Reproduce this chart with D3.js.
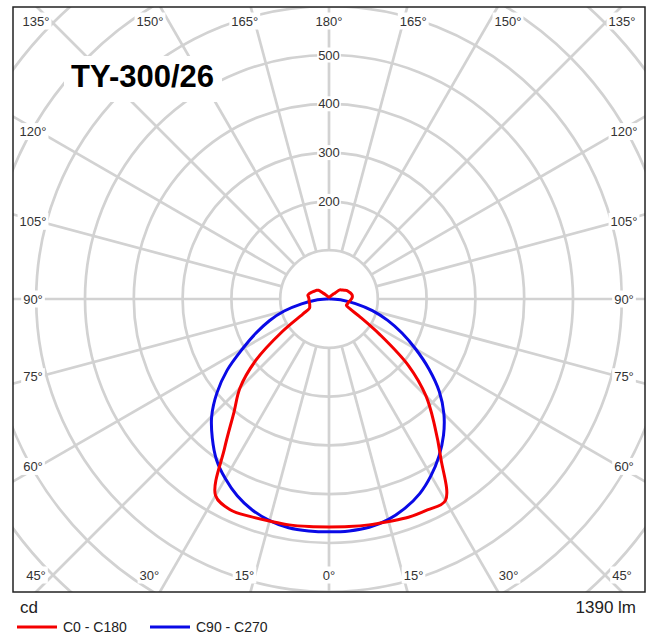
<!DOCTYPE html>
<html>
<head>
<meta charset="utf-8">
<title>TY-300/26</title>
<script src="https://d3js.org/d3.v7.min.js"></script>
<style>
  body { margin: 0; background: #fff; }
  text { font-family: "Liberation Sans", Arial, sans-serif; }
</style>
</head>
<body>
<script>
// gamma angles (deg, 0 = straight down)
var gamma = [0,5,10,15,20,25,30,35,40,45,50,55,60,65,70,75,80,85,90,95,100,105,110,115,120,125,130,135,140,145,150,155,160,165,170,175,180];

// intensities in cd
var c0   = [467,468,470,472,476,477,477,400,336,281,213,128,74,47,38,39,40,43,46,48,48,46,43,41,36,32,29,17,12,9,7,6,5,4,4,4,4];
var c180 = [467,468,470,471,474,477,465,373,303,258,196,118,62,44,42,41,41,41,41,42,44,42,39,36,33,31,28,17,12,9,7,6,5,4,4,4,4];
var c90  = [477,477,475,468,456,440,418,393,365,333,295,250,205,165,128,92,55,28,4,1,0,0,0,0,0,0,0,0,0,0,0,0,0,0,0,0,0];
var c270 = [477,477,476,470,460,445,425,402,372,340,300,255,205,165,130,95,57,28,4,1,0,0,0,0,0,0,0,0,0,0,0,0,0,0,0,0,0];

var rings = [100,200,300,400,500,600,700,800,900];
var ringLabels = [200,300,400,500];
var spokeAngles = [0,15,30,45,60,75,90,105,120,135,150,165,180];
var topLabels = [135,150,165,180];
var bottomLabels = [0,15,30,45];
var sideLabels = [60,75,90,105,120];

var title = "TY-300/26";
var unit = "cd";
var flux = "1390 lm";
var seriesNames = ["C0 - C180", "C90 - C270"];
var colors = ["#f40000", "#0a0ae6"];

var W = 654, H = 639;
var frame = {l: 13, t: 7, r: 645, b: 592};
var cx = 329, cy = 299;
var gridColor = "#d2d2d2";

var r = d3.scaleLinear().domain([0, 100]).range([0, 48.8]);

var svg = d3.select("body").append("svg")
    .attr("width", W)
    .attr("height", H);

svg.append("clipPath").attr("id", "clip")
  .append("rect")
    .attr("x", frame.l).attr("y", frame.t)
    .attr("width", frame.r - frame.l).attr("height", frame.b - frame.t);

var grid = svg.append("g").attr("clip-path", "url(#clip)");

grid.selectAll("circle")
    .data(rings)
    .enter().append("circle")
    .attr("cx", cx).attr("cy", cy)
    .attr("r", function(d) { return r(d); })
    .attr("fill", "none")
    .attr("stroke", gridColor)
    .attr("stroke-width", 2.7);

// spokes on both sides
var spokes = [];
spokeAngles.forEach(function(a) {
  spokes.push({a: a, s: 1});
  if (a > 0 && a < 180) spokes.push({a: a, s: -1});
});
grid.selectAll("line.spoke")
    .data(spokes)
    .enter().append("line")
    .attr("class", "spoke")
    .attr("x1", function(d) { return cx + d.s * r(100) * Math.sin(d.a * Math.PI / 180); })
    .attr("y1", function(d) { return cy + r(100) * Math.cos(d.a * Math.PI / 180); })
    .attr("x2", function(d) { return cx + d.s * 800 * Math.sin(d.a * Math.PI / 180); })
    .attr("y2", function(d) { return cy + 800 * Math.cos(d.a * Math.PI / 180); })
    .attr("stroke", gridColor)
    .attr("stroke-width", 2.7);

// label with white box behind
function boxLabel(g, x, y, txt, size, pad) {
  var t = g.append("text")
      .attr("x", x).attr("y", y)
      .attr("text-anchor", "middle")
      .attr("dominant-baseline", "central")
      .attr("font-size", size)
      .attr("fill", "#333")
      .text(txt);
  var b = t.node().getBBox();
  g.insert("rect", function() { return t.node(); })
      .attr("x", b.x - pad).attr("y", b.y - pad + 1)
      .attr("width", b.width + 2 * pad).attr("height", b.height + 2 * pad - 2)
      .attr("fill", "#fff");
  return t;
}

var labels = svg.append("g");

ringLabels.forEach(function(v) {
  boxLabel(labels, cx, cy - r(v), v, 13, 1);
});

function deg(a) { return a + "\u00B0"; }

// top / bottom angle labels sit near where the spoke meets the frame
var dTop = cy - frame.t, dBot = frame.b - cy, dSide = 290;
function edgeOffset(d, phi) {
  return Math.min(d * Math.tan(phi) + 12 * Math.sin(2 * phi), cx - 36);
}
topLabels.forEach(function(a) {
  var off = edgeOffset(dTop, (180 - a) * Math.PI / 180);
  boxLabel(labels, cx - off, 21, deg(a), 13, 2);
  if (a != 180) boxLabel(labels, cx + off, 21, deg(a), 13, 2);
});
bottomLabels.forEach(function(a) {
  var off = edgeOffset(dBot, a * Math.PI / 180);
  boxLabel(labels, cx - off, 575, deg(a), 13, 2);
  if (a != 0) boxLabel(labels, cx + off, 575, deg(a), 13, 2);
});
sideLabels.forEach(function(a) {
  var y = cy + dSide * Math.tan((90 - a) * Math.PI / 180);
  boxLabel(labels, 33, y, deg(a), 13, 2);
  boxLabel(labels, 624, y, deg(a), 13, 2);
});

// title
var tg = svg.append("g");
tg.append("rect")
    .attr("x", 64).attr("y", 56).attr("width", 158).attr("height", 46)
    .attr("fill", "#fff");
tg.append("text")
    .attr("x", 71).attr("y", 87)
    .attr("font-family", "Roboto, 'Noto Sans', sans-serif")
    .attr("font-weight", "bold")
    .attr("font-size", 31)
    .attr("fill", "#000")
    .text(title);

// curves
function buildCurve(right, left) {
  var pts = [];
  for (var i = gamma.length - 1; i >= 0; i--) {
    pts.push({a: Math.PI - gamma[i] * Math.PI / 180, v: right[i]});
  }
  for (var j = 1; j < gamma.length - 1; j++) {
    pts.push({a: Math.PI + gamma[j] * Math.PI / 180, v: left[j]});
  }
  return pts;
}

var polarLine = d3.lineRadial()
    .angle(function(d) { return d.a; })
    .radius(function(d) { return r(d.v); })
    .curve(d3.curveCatmullRomClosed.alpha(0.5));

var curves = svg.append("g").attr("transform", "translate(" + cx + "," + cy + ")");

curves.append("path")
    .attr("d", polarLine(buildCurve(c90, c270)))
    .attr("fill", "none")
    .attr("stroke", colors[1])
    .attr("stroke-width", 3)
    .attr("stroke-linejoin", "round");

curves.append("path")
    .attr("d", polarLine(buildCurve(c0, c180)))
    .attr("fill", "none")
    .attr("stroke", colors[0])
    .attr("stroke-width", 3)
    .attr("stroke-linejoin", "round");

// frame
svg.append("rect")
    .attr("x", frame.l).attr("y", frame.t)
    .attr("width", frame.r - frame.l).attr("height", frame.b - frame.t)
    .attr("fill", "none")
    .attr("stroke", "#222")
    .attr("stroke-width", 1.5);

// footer
svg.append("text")
    .attr("x", 20).attr("y", 613)
    .attr("font-size", 17).attr("fill", "#222")
    .text(unit);
svg.append("text")
    .attr("x", 636).attr("y", 613)
    .attr("text-anchor", "end")
    .attr("font-size", 17).attr("fill", "#222")
    .text(flux);

var legend = svg.append("g");
var legX = [17, 150];
seriesNames.forEach(function(name, i) {
  legend.append("line")
      .attr("x1", legX[i]).attr("x2", legX[i] + 40)
      .attr("y1", 627).attr("y2", 627)
      .attr("stroke", colors[i])
      .attr("stroke-width", 3);
  legend.append("text")
      .attr("x", legX[i] + 46).attr("y", 632)
      .attr("font-size", 14).attr("fill", "#222")
      .text(name);
});
</script>
</body>
</html>
